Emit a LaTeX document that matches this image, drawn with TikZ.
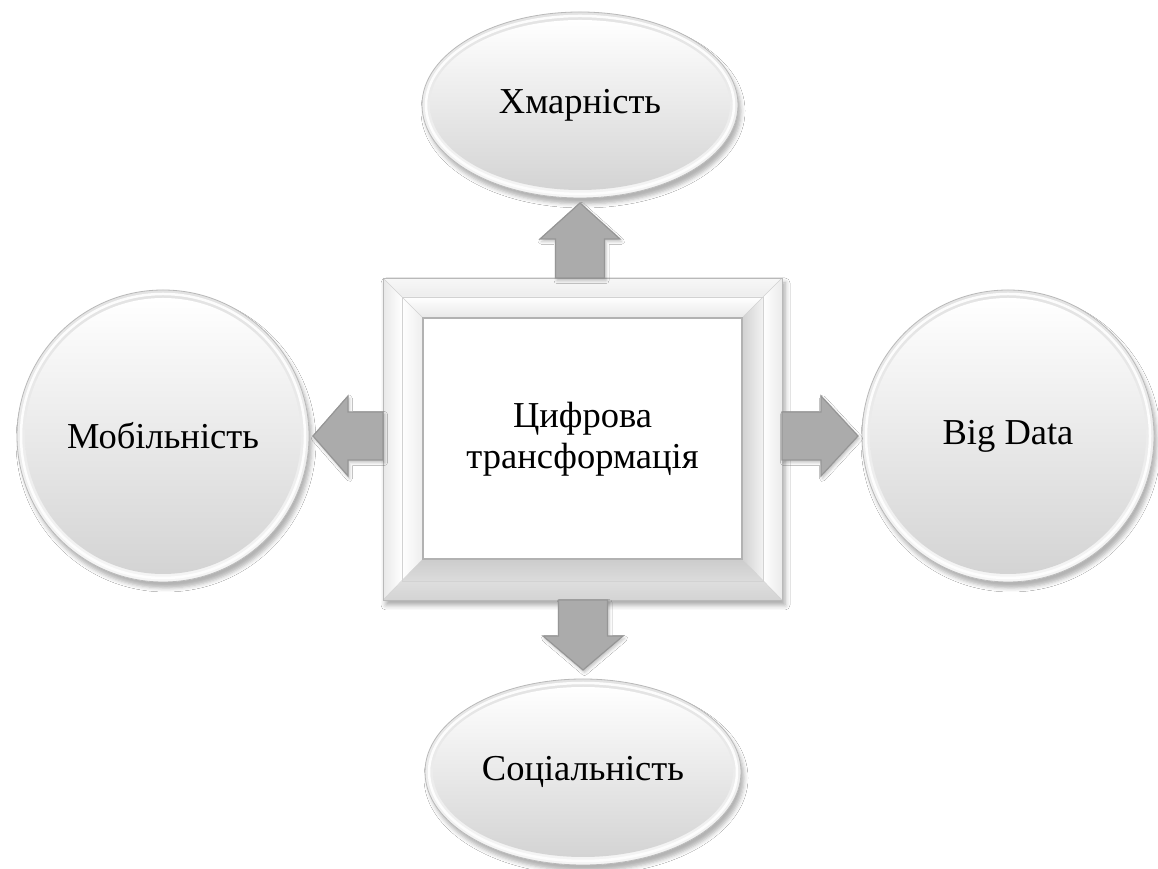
\documentclass[tikz,border=0pt]{standalone}
\usepackage{fontspec}
\setmainfont{Liberation Serif}
\usetikzlibrary{calc,shapes.geometric,shadows.blur}
\tikzset{
  lbl/.style={font=\fontsize{36.5}{41}\selectfont, text=black, align=center, inner sep=0pt, outer sep=0pt},
  ovalnode/.style={ellipse, lbl, minimum width=316, minimum height=186},
  roundnode/.style={circle, lbl, minimum size=292},
  framenode/.style={rectangle, lbl, minimum width=399, minimum height=322},
  blockarr/.style={fill=gray!66, draw=gray!82, line width=1.2pt, line join=miter,
    blur shadow={shadow xshift=1.5pt, shadow yshift=-2.5pt, shadow opacity=25, shadow blur radius=3pt}},
  shadowonly/.style={fill=white, blur shadow={shadow xshift=3pt, shadow yshift=-6pt, shadow opacity=30, shadow blur radius=4pt}},
  rimfill/.style={draw=gray!55, line width=0.8pt, top color=gray!22, bottom color=gray!8},
  innerfill/.style={top color=white, middle color=gray!10, bottom color=gray!34},
  highlight/.style={draw=white, line width=2.5pt, opacity=0.9},
  bandline/.style={draw=gray!35, line width=0.5pt},
}
\newcommand\bubbledeco[3]{% center, rx, ry
  \path[shadowonly] (#1) ellipse [x radius=#2, y radius=#3];
  \path[rimfill] (#1) ellipse [x radius=#2, y radius=#3];
  \path[innerfill] (#1) ellipse [x radius=#2-8, y radius=#3-8];
  \draw[highlight] (#1) ellipse [x radius=#2-4, y radius=#3-4];
}
\begin{document}
\begin{tikzpicture}[x=1pt,y=1pt]
\fill[white] (0,0) rectangle (1158,869);
\useasboundingbox (0,0) rectangle (1158,869);

% centres
\coordinate (ctop) at (580,764);
\coordinate (cbottom) at (583,97);
\coordinate (cleft) at (163,433);
\coordinate (cright) at (1008,433);
\coordinate (cframe) at (582.5,430);

% bubble decorations
\bubbledeco{ctop}{158}{93}
\bubbledeco{cbottom}{158}{93}
\bubbledeco{cleft}{146}{146}
\bubbledeco{cright}{146}{146}

% frame decoration
\coordinate (onw) at ($(cframe)+(-199.5,161)$);
\coordinate (one) at ($(cframe)+(199.5,161)$);
\coordinate (ose) at ($(cframe)+(199.5,-161)$);
\coordinate (osw) at ($(cframe)+(-199.5,-161)$);
\coordinate (mnw) at ($(onw)+(19,-19)$);
\coordinate (mne) at ($(one)+(-19,-19)$);
\coordinate (mse) at ($(ose)+(-19,19)$);
\coordinate (msw) at ($(osw)+(19,19)$);
\coordinate (inw) at ($(onw)+(40,-40)$);
\coordinate (ine) at ($(one)+(-40,-40)$);
\coordinate (ise) at ($(ose)+(-40,41)$);
\coordinate (isw) at ($(osw)+(40,41)$);
\path[fill=gray!10, blur shadow={shadow xshift=3pt, shadow yshift=-5pt, shadow opacity=35, shadow blur radius=5pt}] (onw) rectangle (ose);
% outer band
\path[top color=gray!6, bottom color=gray!14] (onw) -- (one) -- (mne) -- (mnw) -- cycle;
\path[left color=gray!18, right color=white] (onw) -- (mnw) -- (msw) -- (osw) -- cycle;
\path[left color=white, right color=gray!16] (one) -- (ose) -- (mse) -- (mne) -- cycle;
\path[top color=gray!26, bottom color=gray!34] (osw) -- (ose) -- (mse) -- (msw) -- cycle;
% inner band
\path[top color=white, bottom color=gray!18] (mnw) -- (mne) -- (ine) -- (inw) -- cycle;
\path[left color=white, right color=gray!14] (mnw) -- (inw) -- (isw) -- (msw) -- cycle;
\path[left color=gray!36, right color=gray!10] (mne) -- (ine) -- (ise) -- (mse) -- cycle;
\path[top color=gray!40, bottom color=gray!28] (msw) -- (isw) -- (ise) -- (mse) -- cycle;
% lines
\draw[bandline] (mnw) rectangle (mse);
\draw[bandline] (onw) -- (inw) (one) -- (ine) (ose) -- (ise) (osw) -- (isw);
\draw[draw=gray!55, line width=0.8pt] (onw) rectangle (ose);
\fill[white] (inw) rectangle (ise);
\draw[draw=gray!60, line width=1.4pt] (inw) rectangle (ise);

% nodes
\node[ovalnode] (top) at (ctop) {Хмарність};
\node[ovalnode] (bottom) at (cbottom) {Соціальність};
\node[roundnode] (left) at (cleft) {Мобільність};
\node[roundnode] (right) at (cright) {Big Data};
\node[framenode] (frame) at (cframe) {Цифрова\\трансформація};

% block arrows
\coordinate (uT) at ($(top.south)+(0,-5)$);
\coordinate (uS) at (frame.north -| uT);
\path[blockarr] ($(uS)+(-24.5,0)$) -- ($(uT)+(-24.5,-36)$) -- ($(uT)+(-40,-36)$) -- (uT)
   -- ($(uT)+(40,-36)$) -- ($(uT)+(24.5,-36)$) -- ($(uS)+(24.5,0)$) -- cycle;

\coordinate (dT) at ($(bottom.north)+(0,9)$);
\coordinate (dS) at (frame.south -| dT);
\path[blockarr] ($(dS)+(-24.5,0)$) -- ($(dT)+(-24.5,34)$) -- ($(dT)+(-40,34)$) -- (dT)
   -- ($(dT)+(40,34)$) -- ($(dT)+(24.5,34)$) -- ($(dS)+(24.5,0)$) -- cycle;

\coordinate (rT) at ($(right.west)+(-4,0)$);
\coordinate (rS) at (frame.east |- rT);
\path[blockarr] ($(rS)+(0,-24)$) -- ($(rT)+(-37,-24)$) -- ($(rT)+(-37,-40)$) -- (rT)
   -- ($(rT)+(-37,40)$) -- ($(rT)+(-37,24)$) -- ($(rS)+(0,24)$) -- cycle;

\coordinate (lT) at ($(left.east)+(4,0)$);
\coordinate (lS) at (frame.west |- lT);
\path[blockarr] ($(lS)+(0,-24)$) -- ($(lT)+(35,-24)$) -- ($(lT)+(35,-40)$) -- (lT)
   -- ($(lT)+(35,40)$) -- ($(lT)+(35,24)$) -- ($(lS)+(0,24)$) -- cycle;
\end{tikzpicture}
\end{document}
